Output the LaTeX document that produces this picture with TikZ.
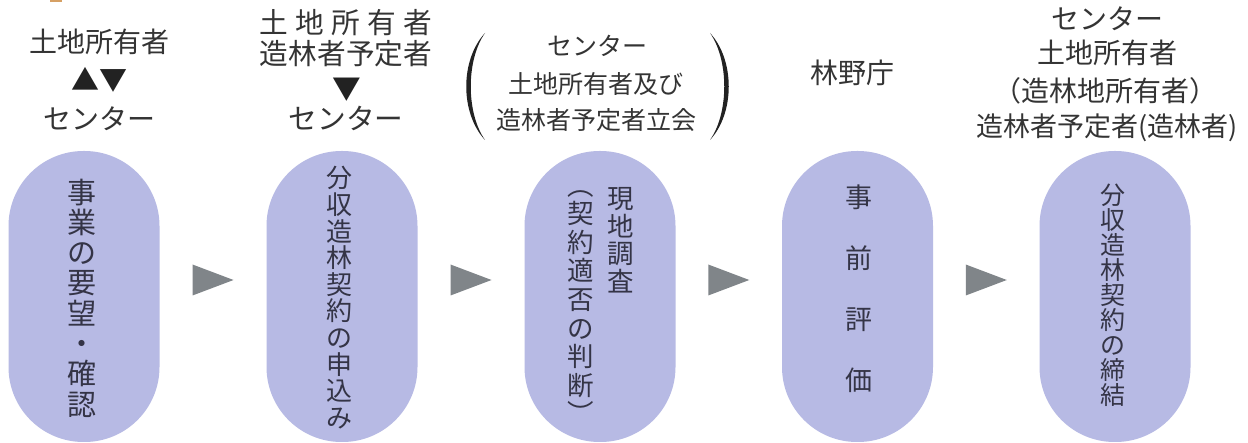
\documentclass[tikz,border=0pt]{standalone}
\usepackage{fontspec}
\setmainfont{Noto Sans CJK JP}
\usetikzlibrary{calc}
\definecolor{pillc}{RGB}{183,186,228}
\definecolor{tric}{RGB}{128,133,137}
\definecolor{txt}{RGB}{52,52,52}
\definecolor{ptxt}{RGB}{52,52,70}
\definecolor{parc}{RGB}{34,34,34}
\definecolor{orn}{RGB}{214,160,100}
\tikzset{
  pill/.style={fill=pillc, draw=none, rounded corners=75pt, minimum width=151pt, minimum height=291pt, inner sep=0pt},
  ch/.style={inner sep=0pt, anchor=base, text=ptxt},
  hd/.style={inner sep=0pt, anchor=base, text=txt},
  tri/.style={fill=tric, draw=none},
  paren/.style={fill=parc, draw=none}
}
% name, x, ystart (centre of first glyph), pitch, font size, list
\newcommand\vcol[6]{%
  \foreach \c [count=\i from 0] in {#6} {
    \node[ch, font=\fontsize{#5}{#5}\selectfont] (#1-\i) at (#2, {#3+\i*#4+0.38*#5}) {\c};
  }}
\newcommand\arrowtri[1]{%
  \fill[tri] ($(#1)+(-20.5,-15.5)$) -- ($(#1)+(20.5,0)$) -- ($(#1)+(-20.5,15.5)$) -- cycle;}
\begin{document}
\begin{tikzpicture}[x=1pt,y=-1pt]
\useasboundingbox[fill=white] (0,0) rectangle (1248,443);
\fill[orn] (50,0) rectangle (62,2.5);
% pills
\node[pill] (p1) at (84,296.5) {};
\node[pill] (p2) at (342,296.5) {};
\node[pill] (p3) at (600,296.5) {};
\node[pill] (p4) at (857.5,296.5) {};
\node[pill] (p5) at (1115,296.5) {};
% arrow triangles between pills
\coordinate (t1) at ($($(p1.east)!0.5!(p2.west)$)+(0,-16.5)$);
\coordinate (t2) at ($($(p2.east)!0.5!(p3.west)$)+(0,-16.5)$);
\coordinate (t3) at ($($(p3.east)!0.5!(p4.west)$)+(0,-16.5)$);
\coordinate (t4) at ($($(p4.east)!0.5!(p5.west)$)+(0,-16.5)$);
\arrowtri{t1}
\arrowtri{t2}
\arrowtri{t3}
\arrowtri{t4}
% vertical texts in pills
\vcol{a}{82}{192}{30.3}{29}{事,業,の,要,望,・,確,認}
\vcol{b}{339}{178}{26.6}{26}{分,収,造,林,契,約,の,申,込,み}
\vcol{c}{621}{198.5}{27.7}{26.5}{現,地,調,査}
\vcol{d}{581}{185}{28.6}{26.5}{︵,契,約,適,否,の,判,断,︶}
\vcol{e}{859}{197}{61}{27}{事,前,評,価}
\vcol{f}{1113}{195}{25}{25}{分,収,造,林,契,約,の,締,結}
% header 1
\begin{scope}[every node/.style={hd, font=\fontsize{28}{28}\selectfont}]
\node (h1a) at (99,52.1) {土地所有者};
\node[text=parc] (h1b) at (99.5,90.6) {▲▼};
\node (h1c) at (99,129.6) {センター};
\end{scope}
% header 2
\begin{scope}[every node/.style={hd, font=\fontsize{28.7}{28.7}\selectfont}]
\node (h2a) at (346,33.4) {\makebox[6em][s]{土\hfil 地\hfil 所\hfil 有\hfil 者}};
\node (h2b) at (346,64.4) {造林者予定者};
\node[text=parc] (h2c) at (346.5,99.9) {▼};
\node (h2d) at (346,129.9) {センター};
\end{scope}
% header 3
\begin{scope}[every node/.style={hd, font=\fontsize{25}{25}\selectfont}]
\node (h3a) at (597.5,55.5) {センター};
\node (h3b) at (595.5,93.5) {土地所有者及び};
\node (h3c) at (596.5,129.5) {造林者予定者立会};
\end{scope}
\fill[paren] (485,33) .. controls (460,60) and (460,113) .. (485,140)
  .. controls (466,113) and (466,60) .. (485,33) -- cycle;
\fill[paren] (710,33) .. controls (735,60) and (735,113) .. (710,140)
  .. controls (729,113) and (729,60) .. (710,33) -- cycle;
% header 4
\node[hd, font=\fontsize{28}{28}\selectfont] (h4) at (852.5,83.6) {林野庁};
% header 5
\begin{scope}[every node/.style={hd, font=\fontsize{28}{28}\selectfont}]
\node (h5a) at (1107.5,29.1) {センター};
\node (h5b) at (1107,63.1) {土地所有者};
\node (h5c) at (1105,101.1) {（造林地所有者）};
\end{scope}
\node[hd, font=\fontsize{27}{27}\selectfont] (h5d) at (1107,136.3) {造林者予定者(造林者)};
\end{tikzpicture}
\end{document}
